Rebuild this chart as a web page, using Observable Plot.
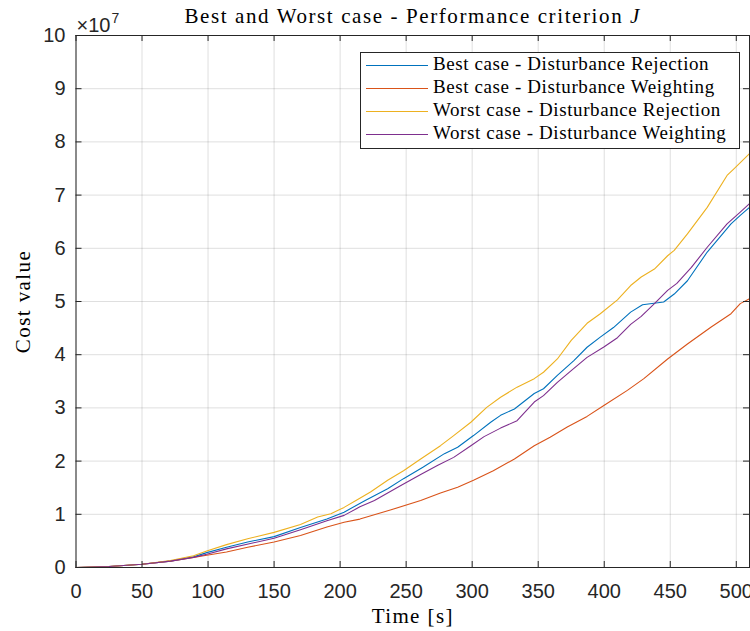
<!DOCTYPE html>
<html>
<head>
<meta charset="utf-8">
<script src="https://cdn.jsdelivr.net/npm/d3@7"></script>
<script src="https://cdn.jsdelivr.net/npm/@observablehq/plot@0.6"></script>
<style>
  html, body { margin: 0; padding: 0; background: #fff; }
  #wrap { position: relative; width: 750px; height: 631px; }
  #legend { position: absolute; left: 360px; top: 51.5px; width: 380px; height: 97.5px;
    border: 1px solid #262626; background: #fff; box-sizing: border-box;
    font-family: "Liberation Serif", serif; font-size: 19px; letter-spacing: 0.6px; color: #000; }
  .row { position: absolute; left: 0; width: 100%; height: 22px; }
  .sw { position: absolute; left: 5px; top: 12px; width: 62px; height: 0; border-top: 1.2px solid; }
  .lab { position: absolute; left: 72px; top: 0; line-height: 22px; white-space: nowrap; }
  .exp { position: absolute; font-family: "Liberation Sans", Arial, sans-serif; color: #262626; white-space: nowrap; }
  #expBase { left: 76.5px; top: 14.8px; font-size: 20px; line-height: 20px; }
  #expPow { left: 111.5px; top: 10.9px; font-size: 14px; line-height: 14px; }
</style>
</head>
<body>
<div id="wrap">
  <div id="legend"></div>
  <span class="exp" id="expBase"></span>
  <span class="exp" id="expPow"></span>
</div>
<script>
// Values in units of 1e7 (axis shows ×10^7)
const seriesNames = [
  "Best case - Disturbance Rejection",
  "Best case - Disturbance Weighting",
  "Worst case - Disturbance Rejection",
  "Worst case - Disturbance Weighting"
];
const seriesColors = ["#0072BD", "#D95319", "#EDB120", "#7E2F8E"];

const bestRejT = [0, 25, 50, 71.5, 89, 99, 114, 130, 150, 170, 190, 203, 219, 236, 248, 263, 279, 289, 301, 314, 321.5, 332, 347, 354, 364.5, 377, 387, 397, 407, 420, 429, 445, 453, 463, 478, 496, 503, 510];
const bestRejV = [0, 0.02, 0.06, 0.12, 0.2, 0.28, 0.38, 0.48, 0.58, 0.75, 0.91, 1.04, 1.26, 1.48, 1.67, 1.89, 2.14, 2.26, 2.48, 2.73, 2.86, 2.98, 3.27, 3.36, 3.61, 3.89, 4.14, 4.33, 4.51, 4.80, 4.94, 4.99, 5.14, 5.39, 5.93, 6.46, 6.62, 6.77];

const bestWeiT = [0, 25, 50, 71.5, 89, 99, 114, 130, 150, 170, 190, 203, 215, 238, 261, 276, 289, 301, 316, 332, 347, 359, 372, 387, 400, 417.5, 430, 448, 463, 481, 496, 503, 510];
const bestWeiV = [0, 0.02, 0.06, 0.12, 0.19, 0.23, 0.29, 0.38, 0.48, 0.60, 0.76, 0.85, 0.91, 1.08, 1.26, 1.40, 1.51, 1.64, 1.82, 2.04, 2.29, 2.45, 2.64, 2.84, 3.05, 3.33, 3.55, 3.92, 4.20, 4.52, 4.77, 4.96, 5.05];

const worstRejT = [0, 25, 50, 71.5, 89, 99, 114, 130, 150, 170, 183, 193, 203, 212, 223, 236, 248, 261, 276, 286, 299, 311, 321.5, 334, 347, 354, 364.5, 375, 387, 397, 410, 420, 428, 438, 448, 453, 463, 478, 493, 498, 510];
const worstRejV = [0, 0.02, 0.06, 0.13, 0.22, 0.31, 0.43, 0.54, 0.66, 0.81, 0.95, 1.01, 1.13, 1.26, 1.42, 1.64, 1.82, 2.04, 2.29, 2.48, 2.73, 3.01, 3.20, 3.39, 3.55, 3.67, 3.92, 4.27, 4.59, 4.77, 5.03, 5.30, 5.46, 5.61, 5.86, 5.96, 6.27, 6.77, 7.37, 7.49, 7.78];

const worstWeiT = [0, 25, 50, 71.5, 89, 99, 114, 150, 170, 190, 203, 215, 226, 246, 261, 274, 286, 299, 309, 321.5, 334, 347, 354, 364.5, 375, 387, 400, 410, 420, 428, 438, 448, 455, 466, 478, 493, 503, 510];
const worstWeiV = [0, 0.02, 0.06, 0.12, 0.19, 0.25, 0.35, 0.55, 0.71, 0.88, 0.98, 1.14, 1.26, 1.54, 1.75, 1.92, 2.07, 2.29, 2.46, 2.62, 2.76, 3.11, 3.23, 3.48, 3.70, 3.95, 4.15, 4.32, 4.57, 4.72, 4.96, 5.21, 5.34, 5.64, 6.02, 6.46, 6.68, 6.84];

const xTicks = [0, 50, 100, 150, 200, 250, 300, 350, 400, 450, 500];
const yTicks = [0, 1, 2, 3, 4, 5, 6, 7, 8, 9, 10];

const titleText = "Best and Worst case - Performance criterion J";
const xLabel = "Time [s]";
const yLabel = "Cost value";
const expBase = "×10";
const expPow = "7";

const seriesT = [bestRejT, bestWeiT, worstRejT, worstWeiT];
const seriesV = [bestRejV, bestWeiV, worstRejV, worstWeiV];
const data = [];
seriesNames.forEach((name, i) => {
  seriesT[i].forEach((t, j) => data.push({series: name, t, v: seriesV[i][j]}));
});

const W = 750, H = 631;
const mL = 75.5, mR = 1, mT = 35, mB = 64;
const plotW = W - mL - mR, plotH = H - mT - mB;
const axisColor = "#262626";
const sans = "'Liberation Sans', Arial, sans-serif";
const serif = "'Liberation Serif', serif";

const chart = Plot.plot({
  width: W, height: H,
  marginLeft: mL, marginRight: mR, marginTop: mT, marginBottom: mB,
  x: {domain: [0, 510]},
  y: {domain: [0, 10]},
  color: {domain: seriesNames, range: seriesColors},
  style: {background: "#fff", overflow: "visible"},
  marks: [
    Plot.gridX(xTicks, {stroke: axisColor, strokeOpacity: 0.15, strokeWidth: 1}),
    Plot.gridY(yTicks, {stroke: axisColor, strokeOpacity: 0.15, strokeWidth: 1}),
    Plot.line(data, {x: "t", y: "v", z: "series", stroke: "series", strokeWidth: 1.1}),
    Plot.frame({stroke: axisColor, strokeWidth: 1}),
    Plot.tickX(xTicks, {x: d => d, insetTop: plotH - 6, stroke: axisColor}),
    Plot.tickX(xTicks, {x: d => d, insetBottom: plotH - 6, stroke: axisColor}),
    Plot.tickY(yTicks, {y: d => d, insetRight: plotW - 6, stroke: axisColor}),
    Plot.tickY(yTicks, {y: d => d, insetLeft: plotW - 6, stroke: axisColor}),
    Plot.axisX(xTicks, {tickSize: 0, tickPadding: 16, fontSize: 20, fontFamily: sans, fill: axisColor, label: null, tickFormat: d => String(d)}),
    Plot.axisY(yTicks, {tickSize: 0, tickPadding: 10.5, fontSize: 20, fontFamily: sans, fill: axisColor, label: null, tickFormat: d => String(d)}),
    Plot.text([titleText], {frameAnchor: "top", lineAnchor: "middle", textAnchor: "middle", dy: -19, fontSize: 21, fontFamily: serif, fill: "#000"}),
    Plot.text([xLabel], {frameAnchor: "bottom", lineAnchor: "middle", textAnchor: "middle", dy: 48.3, fontSize: 21, fontFamily: serif, fill: "#000"}),
    Plot.text([yLabel], {frameAnchor: "left", lineAnchor: "middle", textAnchor: "middle", dx: -53, rotate: -90, fontSize: 21, fontFamily: serif, fill: "#000"})
  ]
});

// letter spacing for serif labels, italic J in the title
chart.querySelectorAll("text").forEach(el => {
  const s = el.textContent;
  if (s === titleText) {
    el.style.letterSpacing = "1.6px";
    const tgt = el.querySelector("tspan") || el;
    tgt.textContent = titleText.slice(0, -1);
    const ts = document.createElementNS("http://www.w3.org/2000/svg", "tspan");
    ts.setAttribute("font-style", "italic");
    ts.textContent = "J";
    tgt.appendChild(ts);
  } else if (s === xLabel || s === yLabel) {
    el.style.letterSpacing = "1.4px";
  }
});

const wrap = document.getElementById("wrap");
wrap.insertBefore(chart, wrap.firstChild);
document.getElementById("expBase").textContent = expBase;
document.getElementById("expPow").textContent = expPow;

const legend = document.getElementById("legend");
seriesNames.forEach((name, i) => {
  const row = document.createElement("div");
  row.className = "row";
  row.style.top = (0.6 + i * 23.1) + "px";
  const sw = document.createElement("div");
  sw.className = "sw";
  sw.style.borderTopColor = seriesColors[i];
  const lab = document.createElement("span");
  lab.className = "lab";
  lab.textContent = name;
  row.appendChild(sw); row.appendChild(lab);
  legend.appendChild(row);
});
</script>
</body>
</html>
